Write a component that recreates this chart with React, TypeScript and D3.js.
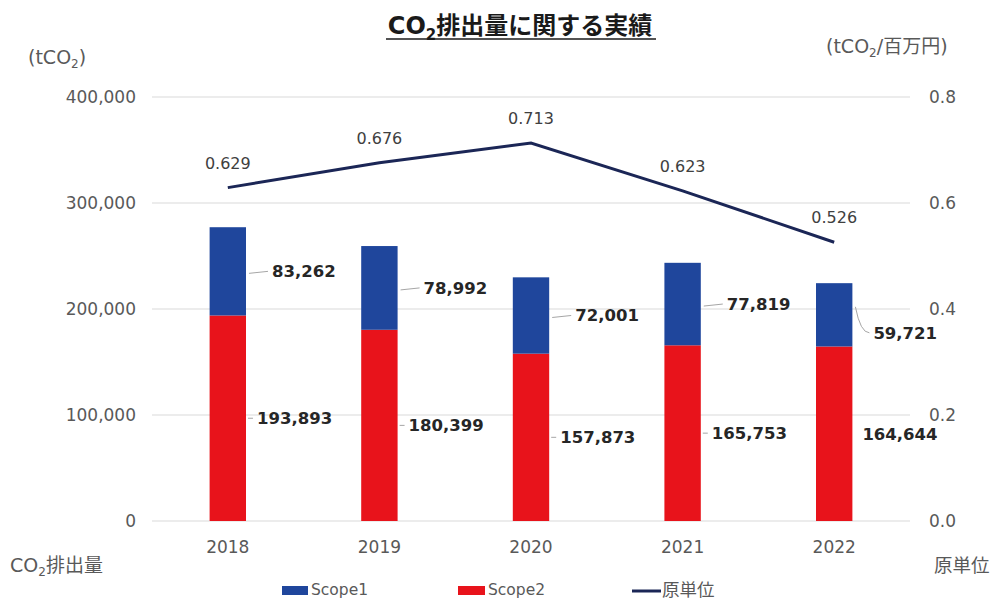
import * as d3 from "d3";

const years = ["2018", "2019", "2020", "2021", "2022"];
const scope1 = [83262, 78992, 72001, 77819, 59721];
const scope2 = [193893, 180399, 157873, 165753, 164644];
const intensity = [0.629, 0.676, 0.713, 0.623, 0.526];
const leftTicks = [0, 100000, 200000, 300000, 400000];
const rightTicks = [0, 0.2, 0.4, 0.6, 0.8];

const W = 994;
const H = 600;
const plot = { left: 152, right: 910, top: 97, bottom: 521 };

const c = {
  blue: "#1F469C",
  red: "#E8131B",
  line: "#1B2656",
  grid: "#D9D9D9",
  tick: "#595959",
  label: "#262626",
};

const jp = "'DejaVu Sans', 'Noto Sans CJK JP', sans-serif";
const lbl = "'DejaVu Sans', Verdana, sans-serif";

export default function App() {
  const x = d3.scaleBand<string>().domain(years).range([plot.left, plot.right]).paddingInner(0.76).paddingOuter(0.38);
  const yL = d3.scaleLinear().domain([0, 400000]).range([plot.bottom, plot.top]);
  const yR = d3.scaleLinear().domain([0, 0.8]).range([plot.bottom, plot.top]);
  const fmt = d3.format(",");
  const cx = (yr: string) => (x(yr) ?? 0) + x.bandwidth() / 2;

  const linePath = d3
    .line<number>()
    .x((_, i) => cx(years[i]))
    .y((d) => yR(d))(intensity);

  return (
    <svg width={W} height={H} style={{ position: "absolute", left: 0, top: 0, background: "#fff" }}>
      {/* title */}
      <text x={520} y={34} textAnchor="middle" fontFamily={jp} fontWeight="bold" fontSize={24} fill="#1a1a1a">
        CO<tspan fontSize={15} dy={6}>2</tspan>
        <tspan dy={-6}>排出量に関する実績</tspan>
      </text>
      <line x1={386} x2={656} y1={39} y2={39} stroke="#1a1a1a" strokeWidth={1.5} />

      {/* axis titles */}
      <text x={28} y={64} fontFamily={jp} fontSize={19} fill={c.tick}>
        (tCO<tspan fontSize={12} dy={4}>2</tspan><tspan dy={-4}>)</tspan>
      </text>
      <text x={826} y={53} fontFamily={jp} fontSize={19} fill={c.tick}>
        (tCO<tspan fontSize={12} dy={4}>2</tspan><tspan dy={-4}>/百万円)</tspan>
      </text>
      <text x={10} y={572} fontFamily={jp} fontSize={19} fill={c.tick}>
        CO<tspan fontSize={12} dy={4}>2</tspan><tspan dy={-4}>排出量</tspan>
      </text>
      <text x={934} y={572} fontFamily={jp} fontSize={18.5} fill={c.tick}>
        原単位
      </text>

      {/* grid + left ticks */}
      {leftTicks.map((t) => (
        <g key={t}>
          <line x1={plot.left} x2={plot.right} y1={yL(t)} y2={yL(t)} stroke={c.grid} strokeWidth={1} />
          <text x={136} y={yL(t) + 6} textAnchor="end" fontFamily={lbl} fontSize={17} fill={c.tick}>
            {fmt(t)}
          </text>
        </g>
      ))}
      {rightTicks.map((t) => (
        <text key={t} x={929} y={yR(t) + 6} fontFamily={lbl} fontSize={17} fill={c.tick}>
          {t.toFixed(1)}
        </text>
      ))}
      {years.map((yr) => (
        <text key={yr} x={cx(yr)} y={553} textAnchor="middle" fontFamily={lbl} fontSize={17} fill={c.tick}>
          {yr}
        </text>
      ))}

      {/* bars */}
      {years.map((yr, i) => {
        const x0 = x(yr) ?? 0;
        const bw = x.bandwidth();
        const top2 = yL(scope2[i]);
        const top1 = yL(scope2[i] + scope1[i]);
        const mid1 = (top1 + top2) / 2;
        const mid2 = (top2 + yL(0)) / 2;
        const last = i === years.length - 1;
        const ly1 = last ? mid1 + 18 : mid1;
        return (
          <g key={yr}>
            <rect x={x0} y={top2} width={bw} height={yL(0) - top2} fill={c.red} />
            <rect x={x0} y={top1} width={bw} height={top2 - top1} fill={c.blue} />
            {last ? (
              <path d={`M${x0 + bw + 3},${mid1 - 8} Q${x0 + bw + 8},${ly1} ${x0 + bw + 17},${ly1}`} fill="none" stroke="#A6A6A6" />
            ) : (
              <line x1={x0 + bw + 3} x2={x0 + bw + 22} y1={mid1 + 2} y2={mid1} stroke="#A6A6A6" />
            )}
            <text x={x0 + bw + (last ? 21 : 26)} y={ly1 + 6} fontFamily={lbl} fontWeight="bold" fontSize={16.5} fill={c.label}>
              {fmt(scope1[i])}
            </text>
            {!last && <line x1={x0 + bw + 2} x2={x0 + bw + 7} y1={mid2} y2={mid2} stroke="#A6A6A6" />}
            <text x={x0 + bw + (last ? 10 : 11)} y={mid2 + 6} fontFamily={lbl} fontWeight="bold" fontSize={16.5} fill={c.label}>
              {fmt(scope2[i])}
            </text>
          </g>
        );
      })}

      {/* intensity line */}
      <path d={linePath ?? ""} fill="none" stroke={c.line} strokeWidth={3} />
      {intensity.map((v, i) => (
        <text key={i} x={cx(years[i])} y={yR(v) - 19} textAnchor="middle" fontFamily={lbl} fontSize={16} fill="#404040">
          {v.toFixed(3)}
        </text>
      ))}

      {/* legend */}
      <rect x={282} y={586} width={26} height={9} fill={c.blue} />
      <text x={311} y={595} fontFamily={lbl} fontSize={15.5} fill={c.tick}>Scope1</text>
      <rect x={458} y={586} width={27} height={9} fill={c.red} />
      <text x={488} y={595} fontFamily={lbl} fontSize={15.5} fill={c.tick}>Scope2</text>
      <line x1={632} x2={661} y1={591} y2={591} stroke={c.line} strokeWidth={3} />
      <text x={662} y={596} fontFamily={jp} fontSize={17.5} fill={c.tick}>原単位</text>
    </svg>
  );
}
